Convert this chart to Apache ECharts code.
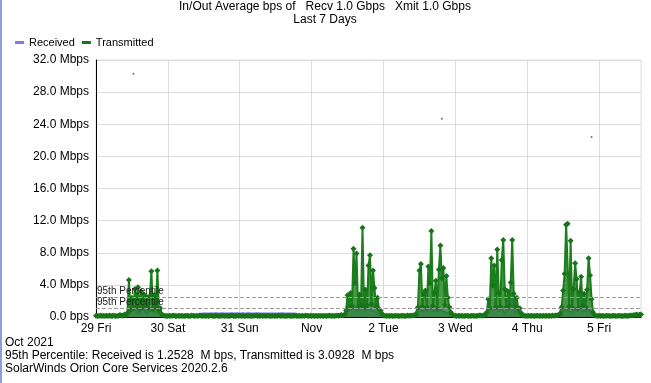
<!DOCTYPE html>
<html><head><meta charset="utf-8">
<script src="https://cdn.jsdelivr.net/npm/echarts@6/dist/echarts.min.js"></script>
<style>html,body{margin:0;padding:0;background:#fff}#c{width:651px;height:383px}</style>
</head><body><div id="c"></div>
<script>
// ---- tick labels ----
const dayLabels = ['29 Fri','30 Sat','31 Sun','Nov','2 Tue','3 Wed','4 Thu','5 Fri'];
const yTickLabels = ['0.0 bps','4.0 Mbps','8.0 Mbps','12.0 Mbps','16.0 Mbps','20.0 Mbps','24.0 Mbps','28.0 Mbps','32.0 Mbps'];
const percentileValues = [2.45, 1.05]; // drawn positions of the two 95th percentile lines (Mbps)

// ---- Transmitted (Mbps), one value per 30 minutes, per day ----
const txOct29 = [0.15,0.12,0.14,0.18,0.13,0.15,0.12,0.16,0.14,0.2,0.13,0.15,0.17,0.12,0.14,0.16,0.25,0.18,0.15,0.3,0.22,
  0.5,4.6,0.9,2.4,1.1,3.5,1.3,3.7,1.0,3.2,1.2,2.8,1.4,2.5,1.1,2.6,5.7,1.0,2.7,1.2,5.8,0.8,1.1,0.3,
  0.2,0.16,0.14];
const txOct30 = [0.14,0.16,0.13,0.15,0.18,0.12,0.14,0.15,0.13,0.17,0.14,0.12,0.16,0.15,0.13,0.14,
  0.18,0.15,0.12,0.16,0.14,0.2,0.15,0.13,0.17,0.14,0.16,0.12,0.15,0.18,0.14,0.13,
  0.16,0.15,0.12,0.14,0.17,0.15,0.13,0.16,0.14,0.12,0.15,0.18,0.14,0.13,0.16,0.15];
const txOct31 = [0.15,0.13,0.16,0.14,0.12,0.17,0.15,0.14,0.13,0.16,0.15,0.18,0.14,0.12,0.15,0.13,
  0.16,0.14,0.15,0.17,0.13,0.14,0.16,0.12,0.15,0.14,0.18,0.13,0.16,0.15,0.14,0.12,
  0.17,0.15,0.13,0.14,0.16,0.15,0.12,0.14,0.15,0.13,0.16,0.14,0.2,0.15,0.13,0.16];
const txNov1 = [0.14,0.16,0.13,0.15,0.12,0.17,0.14,0.15,0.13,0.16,0.14,0.15,0.18,0.13,0.15,0.14,0.16,0.2,0.15,0.18,0.25,0.2,0.3,
  0.8,2.7,1.2,3.0,1.4,8.5,4.2,7.9,1.3,2.8,1.5,11.1,1.2,3.4,1.4,6.4,7.7,1.6,5.8,3.6,1.3,2.4,1.0,0.8,0.4];
const txNov2 = [0.2,0.16,0.14,0.15,0.13,0.16,0.14,0.12,0.15,0.17,0.14,0.13,0.16,0.15,0.14,0.13,0.18,0.15,0.16,0.2,0.18,0.25,0.3,
  1.2,5.8,6.6,1.3,2.9,3.3,1.2,6.3,4.2,10.7,1.4,3.0,4.5,1.1,5.9,8.9,4.8,6.1,1.5,5.1,2.4,1.2,0.6,0.3,0.2];
const txNov3 = [0.15,0.14,0.16,0.13,0.15,0.12,0.14,0.17,0.15,0.13,0.14,0.16,0.15,0.12,0.14,0.15,0.18,0.2,0.16,0.22,0.28,
  0.6,2.2,1.1,7.3,3.9,6.4,1.2,8.4,3.0,1.3,7.1,9.6,3.5,1.2,3.2,1.4,4.3,9.6,2.9,1.3,2.4,1.0,1.1,0.5,0.2,
  0.15,0.14];
const txNov4 = [0.14,0.16,0.13,0.15,0.12,0.14,0.16,0.15,0.13,0.17,0.14,0.15,0.12,0.16,0.14,0.15,0.13,0.18,0.16,0.2,0.22,0.25,0.35,
  1.2,3.3,5.4,11.5,11.6,1.3,9.5,1.2,3.5,6.7,4.7,1.1,3.1,5.0,1.4,2.9,1.2,3.4,7.3,5.2,2.2,0.6,0.2,
  0.16,0.14];
const txNov5 = [0.15,0.13,0.16,0.14,0.12,0.15,0.17,0.14,0.13,0.16,0.15,0.14,0.12,0.16,0.15,0.13,
  0.14,0.17,0.15,0.13,0.16,0.2,0.18,0.22,0.25,0.3,0.22,0.28,0.3];

// ---- Received (Mbps), one value per 30 minutes, per day ----
const rxOct29 = [0.08,0.07,0.09,0.08,0.1,0.07,0.08,0.09,0.08,0.07,0.09,0.08,0.1,0.08,0.09,0.07,0.12,0.1,0.09,0.15,0.12,
  0.3,0.9,0.5,0.8,0.6,1.0,0.7,0.9,0.5,0.8,0.6,0.9,0.7,0.5,0.8,0.6,0.7,1.1,0.6,0.8,0.5,0.9,0.4,0.15,
  0.1,0.09,0.08];
const rxOct30 = [0.08,0.09,0.07,0.08,0.1,0.08,0.07,0.09,0.08,0.08,0.1,0.09,0.07,0.08,0.09,0.08,0.1,0.12,0.09,0.1,0.15,0.25,
  0.42,0.45,0.44,0.46,0.45,0.43,0.45,0.47,0.44,0.45,0.46,0.44,0.45,0.43,0.46,0.45,0.44,0.46,0.45,0.44,0.47,0.45,0.43,0.45,0.46,0.44];
const rxOct31 = [0.45,0.44,0.46,0.45,0.43,0.45,0.46,0.44,0.45,0.47,0.45,0.44,0.46,0.45,0.43,0.45,
  0.44,0.46,0.45,0.45,0.44,0.46,0.45,0.43,0.45,0.46,0.44,0.45,0.47,0.45,0.44,0.46,
  0.45,0.43,0.45,0.46,0.44,0.45,0.4,0.3,
  0.12,0.09,0.08,0.1,0.08,0.09,0.07,0.08];
const rxNov1 = [0.08,0.09,0.08,0.1,0.07,0.08,0.09,0.08,0.1,0.08,0.09,0.08,0.11,0.09,0.1,0.12,0.1,0.15,0.12,0.14,0.2,0.18,0.25,
  0.4,0.7,0.6,0.8,0.7,1.2,0.9,1.0,0.8,0.7,0.9,1.4,3.7,0.8,0.7,1.0,1.1,0.8,0.9,0.7,0.6,0.5,0.4,0.3,0.2];
const rxNov2 = [0.1,0.08,0.09,0.08,0.07,0.09,0.08,0.1,0.08,0.09,0.07,0.08,0.1,0.09,0.08,0.1,0.12,0.1,0.11,0.15,0.12,0.18,0.2,
  0.5,0.9,1.0,0.7,0.8,0.9,0.6,1.0,0.8,1.1,0.7,0.8,0.9,0.6,1.2,0.9,0.8,0.7,0.6,0.5,0.4,0.3,0.2,0.15,0.1];
const rxNov3 = [0.08,0.09,0.07,0.08,0.1,0.08,0.09,0.08,0.07,0.09,0.08,0.1,0.08,0.09,0.1,0.08,0.12,0.1,0.14,0.15,0.2,
  0.4,0.8,0.9,1.0,0.8,0.9,2.3,1.1,0.7,0.8,1.0,0.9,0.4,0.7,0.8,0.9,1.0,2.9,0.8,0.7,0.6,0.5,0.4,0.2,0.12,
  0.1,0.09];
const rxNov4 = [0.09,0.08,0.1,0.08,0.07,0.09,0.08,0.1,0.08,0.09,0.08,0.07,0.1,0.08,0.09,0.1,0.08,0.12,0.1,0.14,0.15,0.2,0.25,
  0.5,0.8,0.9,1.1,1.0,0.7,0.9,0.6,0.8,1.0,0.9,0.7,0.8,2.9,0.6,0.7,0.8,0.9,1.0,0.8,0.5,0.25,0.12,
  0.1,0.09];
const rxNov5 = [0.08,0.09,0.07,0.08,0.1,0.08,0.09,0.08,0.07,0.09,0.08,0.1,0.08,0.09,0.08,0.1,
  0.09,0.12,0.1,0.15,0.12,0.2,0.18,0.25,0.3,0.35,0.28,0.4,0.35];

// isolated peak dots near the top: [half-hour index, Mbps]
const peakDots = [[25,30.3],[231,24.7],[331,22.4]];

const transmitted = [].concat(txOct29, txOct30, txOct31, txNov1, txNov2, txNov3, txNov4, txNov5);
const received = [].concat(rxOct29, rxOct30, rxOct31, rxNov1, rxNov2, rxNov3, rxNov4, rxNov5);

// half-hour category slots starting Fri 29 Oct 2021 00:00
const categories = [];
for (let i = 0; i < transmitted.length; i++) {
  const d = new Date(2021, 9, 29, 0, 30 * i);
  categories.push((d.getMonth()+1) + '/' + d.getDate() + ' ' + String(d.getHours()).padStart(2,'0') + ':' + String(d.getMinutes()).padStart(2,'0'));
}

const FONT = '"Liberation Sans", Arial, sans-serif';
const chart = echarts.init(document.getElementById('c'), null, {renderer:'canvas'});
chart.setOption({
  animation: false,
  backgroundColor: '#fff',
  textStyle: {fontFamily: FONT},
  grid: {left: 96, right: 10, top: 60, bottom: 66, show: true, borderColor: '#dcdcdc', borderWidth: 1},
  legend: {
    data: ['Received','Transmitted'], left: 15, top: 37, padding: 0, icon: 'rect', itemWidth: 9, itemHeight: 3,
    itemGap: 7, textStyle: {fontSize: 11, color: '#000', fontFamily: FONT}
  },
  xAxis: {
    type: 'category', data: categories, boundaryGap: false,
    axisLine: {lineStyle: {color: '#000', width: 1}},
    axisTick: {show: false},
    axisLabel: {interval: (i) => i % 48 === 0, formatter: (v, i) => dayLabels[i / 48], color: '#000', fontSize: 12, margin: 6, fontFamily: FONT},
    splitLine: {show: true, interval: (i) => i % 48 === 0, lineStyle: {color: '#dcdcdc', width: 1}}
  },
  yAxis: {
    type: 'value', min: 0, max: 32, interval: 4,
    axisLine: {show: true, lineStyle: {color: '#000', width: 1}},
    axisTick: {show: false},
    axisLabel: {formatter: (v) => yTickLabels[Math.round(v / 4)], color: '#000', fontSize: 12, margin: 7, fontFamily: FONT},
    splitLine: {lineStyle: {color: '#dcdcdc', width: 1}}
  },
  series: [
    {
      name: 'pct', type: 'line', data: [], z: 1, silent: true,
      markLine: {
        silent: true, symbol: ['none','none'],
        lineStyle: {type: 'dashed', color: '#9a9a9a', width: 1},
        label: {show: true, position: 'insideStartTop', formatter: '95th Percentile', fontSize: 10, color: '#222', fontFamily: FONT, distance: [1, 1]},
        data: percentileValues.map(v => ({yAxis: v}))
      }
    },
    {
      name: 'Received', type: 'line', data: received, z: 2,
      color: '#7b7bef', symbol: 'none',
      lineStyle: {width: 2, color: '#7878ee'},
      areaStyle: {color: '#8d8df2', opacity: 0.6}
    },
    {
      name: 'Transmitted', type: 'line', data: transmitted, z: 3,
      color: '#167516', symbol: 'diamond', symbolSize: 6, showSymbol: true, showAllSymbol: true,
      itemStyle: {color: '#167516'},
      lineStyle: {width: 2, color: '#1b7d1b'},
      areaStyle: {color: '#1b7d1b', opacity: 0.8}
    },
    {
      name: 'peaks', type: 'scatter', data: peakDots, z: 4, symbolSize: 2,
      itemStyle: {color: '#167516'}, silent: true
    }
  ],
  graphic: [
    {type: 'rect', left: 0, top: 0, shape: {x: 0, y: 0, width: 2, height: 383}, style: {fill: '#8da0d6'}},
    {type: 'text', x: 325, y: 7, style: {text: 'In/Out Average bps of   Recv 1.0 Gbps   Xmit 1.0 Gbps', font: '12px ' + FONT, fill: '#000', textAlign: 'center', textVerticalAlign: 'middle'}},
    {type: 'text', x: 325, y: 20, style: {text: 'Last 7 Days', font: '12px ' + FONT, fill: '#000', textAlign: 'center', textVerticalAlign: 'middle'}},
    {type: 'text', x: 5, y: 343, style: {text: 'Oct 2021', font: '12px ' + FONT, fill: '#000', textVerticalAlign: 'middle'}},
    {type: 'text', x: 5, y: 356, style: {text: '95th Percentile: Received is 1.2528  M bps, Transmitted is 3.0928  M bps', font: '12px ' + FONT, fill: '#000', textVerticalAlign: 'middle'}},
    {type: 'text', x: 5, y: 369, style: {text: 'SolarWinds Orion Core Services 2020.2.6', font: '12px ' + FONT, fill: '#000', textVerticalAlign: 'middle'}}
  ]
});
</script></body></html>
